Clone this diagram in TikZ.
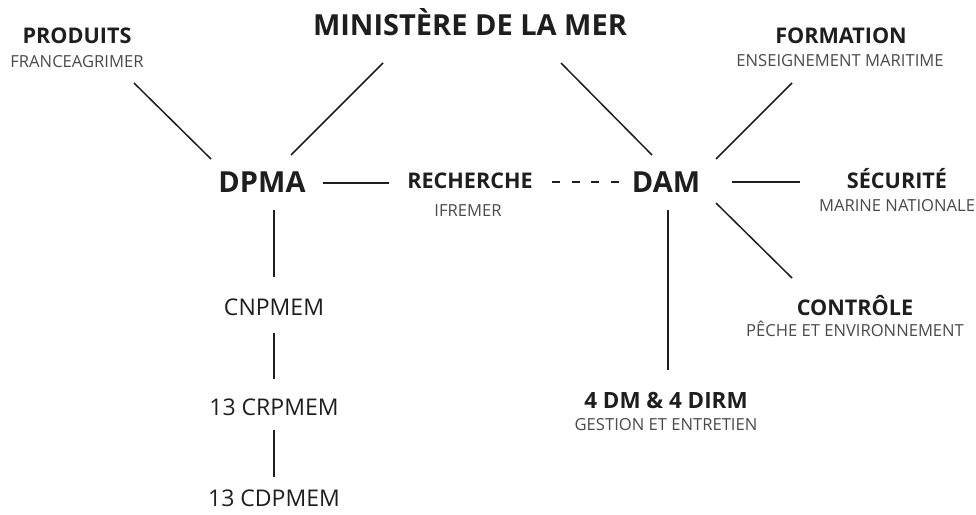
\documentclass[tikz,border=0pt]{standalone}
\usepackage{fontspec}
\setmainfont{Open Sans}
\definecolor{ink}{HTML}{1E1E1E}
\definecolor{sub}{HTML}{4A4A4A}
\begin{document}
\begin{tikzpicture}[x=1pt,y=-1pt,
  head/.style={font=\bfseries\fontsize{#1}{#1}\selectfont, text=ink, inner sep=0pt, anchor=base},
  plain/.style={font=\fontsize{#1}{#1}\selectfont, text=ink, inner sep=0pt, anchor=base},
  subt/.style={font=\fontsize{#1}{#1}\selectfont, text=sub, inner sep=0pt, anchor=base},
  link/.style={draw=ink, line width=1.5pt},
  dlink/.style={draw=ink, line width=1.5pt, dash pattern=on 8pt off 11.7pt}]
\useasboundingbox (0,0) rectangle (976,514);
% nodes
\node[head=29] (min) at (470,35) {MINISTÈRE DE LA MER};
\node[head=21.6] (prod) at (77,43) {PRODUITS};
\node[subt=16.6] (prodsub) at (77,67) {FRANCEAGRIMER};
\node[head=21.6] (form) at (841,43) {FORMATION};
\node[subt=16.6] (formsub) at (840,66) {ENSEIGNEMENT MARITIME};
\node[head=29] (dpma) at (262,192) {DPMA};
\node[head=21.6] (rech) at (470,188) {RECHERCHE};
\node[subt=16.6] (rechsub) at (468,216) {IFREMER};
\node[head=29] (dam) at (666,192) {DAM};
\node[head=21.6] (secu) at (897,188) {SÉCURITÉ};
\node[subt=16.6] (secusub) at (897,211) {MARINE NATIONALE};
\node[head=21.6] (ctrl) at (855,315) {CONTRÔLE};
\node[subt=16.6] (ctrlsub) at (855,336) {PÊCHE ET ENVIRONNEMENT};
\node[head=22.4] (dm) at (666,408) {4 DM \& 4 DIRM};
\node[subt=16.6] (dmsub) at (666,430) {GESTION ET ENTRETIEN};
\node[plain=23] (cnp) at (274,315) {CNPMEM};
\node[plain=23] (crp) at (274,415) {13 CRPMEM};
\node[plain=23] (cdp) at (274,506) {13 CDPMEM};
% connectors
\draw[link] ([shift={(57,16)}]prodsub.base) -- ([shift={(-51,-33)}]dpma.base);
\draw[link] ([shift={(-87,28)}]min.base) -- ([shift={(29,-37)}]dpma.base);
\draw[link] ([shift={(91,28)}]min.base) -- ([shift={(-14,-37)}]dam.base);
\draw[link] ([shift={(-48,17)}]formsub.base) -- ([shift={(50,-33)}]dam.base);
\draw[link] ([shift={(61,-9)}]dpma.base) -- ([shift={(-81,-5)}]rech.base);
\draw[dlink] ([shift={(82,-6)}]rech.base) -- ([shift={(-47,-10)}]dam.base);
\draw[link] ([shift={(66,-10)}]dam.base) -- ([shift={(-97,-6)}]secu.base);
\draw[link] ([shift={(50,11)}]dam.base) -- ([shift={(-63,-37)}]ctrl.base);
\draw[link] ([shift={(2,18)}]dam.base) -- ([shift={(2,-38)}]dm.base);
\draw[link] ([shift={(12,18)}]dpma.base) -- ([shift={(0,-38)}]cnp.base);
\draw[link] ([shift={(0,18)}]cnp.base) -- ([shift={(0,-36)}]crp.base);
\draw[link] ([shift={(0,15)}]crp.base) -- ([shift={(0,-29)}]cdp.base);
\end{tikzpicture}
\end{document}
